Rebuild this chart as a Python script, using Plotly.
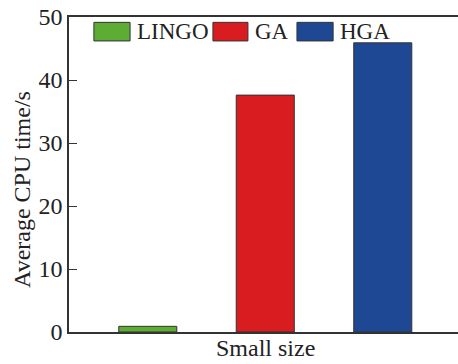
import plotly.graph_objects as go

# Average CPU time per solver, small-size instances
category = ["Small size"]
methods = ["LINGO", "GA", "HGA"]
cpu_time = [0.9, 37.6, 45.9]
colors = ["#5dad35", "#d81c20", "#1e4894"]
y_ticks = [0, 10, 20, 30, 40, 50]
y_title = "Average CPU time/s"

FONT = "Liberation Serif"
EDGE = "#333333"
TEXT = "#222222"

fig = go.Figure()
for name, val, col in zip(methods, cpu_time, colors):
    fig.add_trace(go.Bar(
        x=category, y=[val], name=name,
        marker=dict(color=col, line=dict(color=EDGE, width=1)),
        showlegend=False,
    ))

# Legend drawn as wide swatches with labels across the top of the plot
swatch_x = [(0.064, 0.157), (0.370, 0.460), (0.586, 0.679)]
shapes = []
annotations = []
for (x0, x1), name, col in zip(swatch_x, methods, colors):
    shapes.append(dict(type="rect", xref="paper", yref="paper",
                       x0=x0, x1=x1, y0=0.924, y1=0.983,
                       fillcolor=col, line=dict(color=EDGE, width=1)))
    annotations.append(dict(xref="paper", yref="paper", x=x1 + 0.012, y=0.953,
                            text=name, showarrow=False, xanchor="left",
                            yanchor="middle",
                            font=dict(family=FONT, size=23, color=TEXT)))

# Y-axis title placed as rotated text left of the tick labels
annotations.append(dict(xref="paper", yref="paper", x=-0.121, y=0.454,
                        text=y_title, textangle=-90, showarrow=False,
                        xanchor="center", yanchor="middle",
                        font=dict(family=FONT, size=24, color=TEXT)))

# Category label under the bars
annotations.append(dict(xref="x", yref="paper", x=category[0], y=-0.05,
                        text=category[0], showarrow=False,
                        xanchor="center", yanchor="middle",
                        font=dict(family=FONT, size=24, color=TEXT)))

fig.update_layout(
    width=458, height=364,
    margin=dict(l=69, r=0, t=17, b=32),
    paper_bgcolor="white", plot_bgcolor="white",
    barmode="group", bargap=0.102, bargroupgap=0.506,
    font=dict(family=FONT, size=24, color=TEXT),
    shapes=shapes, annotations=annotations,
    xaxis=dict(
        range=[-0.5, 0.491], showline=True, linecolor=EDGE, linewidth=1.5,
        mirror=True, ticks="", showticklabels=False, showgrid=False,
        zeroline=False, automargin=False,
    ),
    yaxis=dict(
        range=[0, 50], tickvals=y_ticks, showline=True, linecolor=EDGE,
        linewidth=1.5, ticks="inside", ticklen=8, tickwidth=1.2,
        tickcolor=EDGE, showgrid=False, zeroline=False,
        tickfont=dict(family=FONT, size=24), automargin=False,
    ),
)

fig.write_html("out.html")
